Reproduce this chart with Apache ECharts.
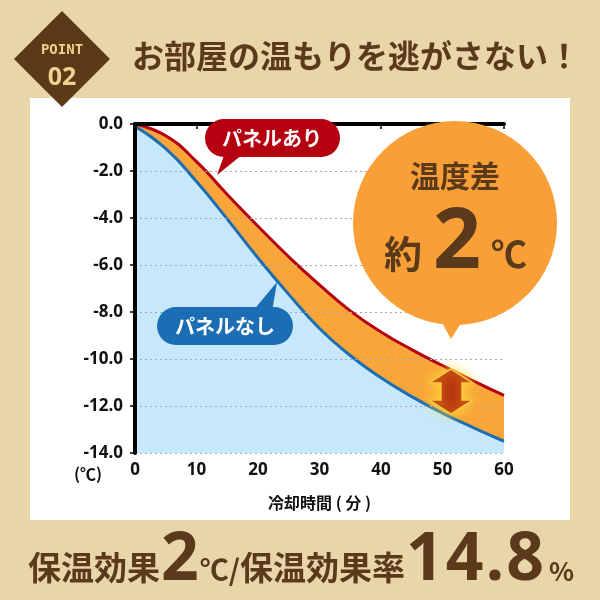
<!DOCTYPE html>
<html><head><meta charset="utf-8">
<script src="https://cdn.jsdelivr.net/npm/echarts@6/dist/echarts.min.js"></script>
<style>html,body{margin:0;padding:0;background:#e9d5aa}#c{width:600px;height:600px}</style>
</head><body><div id="c"></div>
<script>
const minutes = [0, 5, 10, 15, 20, 25, 30, 35, 40, 45, 50, 55, 60];
const panelAri = [0, -0.5, -1.6, -3.0, -4.35, -5.65, -6.85, -7.95, -8.85, -9.6, -10.28, -10.93, -11.55];
const panelNashi = [-0.1, -1.05, -2.45, -4.05, -5.7, -7.25, -8.7, -9.85, -10.8, -11.6, -12.3, -12.92, -13.5];
const xTicks = [0, 10, 20, 30, 40, 50, 60];
const yTicks = [0, -2, -4, -6, -8, -10, -12, -14];

const brown = '#5a3a1a';
const jp = '"Noto Sans CJK JP", sans-serif';
const chart = echarts.init(document.getElementById('c'));
chart.setOption({
  backgroundColor: '#e9d5aa',
  animation: false,
  grid: { left: 135, right: 96, top: 124, bottom: 147 },
  xAxis: {
    type: 'value', min: 0, max: 60, interval: 10, z: 10,
    axisLine: { lineStyle: { color: '#000', width: 4 } },
    axisTick: { show: true, length: 5, lineStyle: { color: '#000', width: 1.5 } },
    axisLabel: { color: '#111', fontSize: 17, fontWeight: 'bold', fontFamily: '"Open Sans", sans-serif', margin: 9,
      customValues: xTicks },
    splitLine: { show: false },
    name: '冷却時間 ( 分 )', nameLocation: 'middle', nameGap: 42,
    nameTextStyle: { color: '#111', fontSize: 16, fontWeight: 'bold', fontFamily: jp }
  },
  yAxis: {
    type: 'value', min: -14, max: 0, interval: 2, z: 10,
    axisLine: { show: true, lineStyle: { color: '#000', width: 4 } },
    axisTick: { show: true, length: 5, lineStyle: { color: '#000', width: 1.5 } },
    axisLabel: { color: '#111', fontSize: 17, fontWeight: 'bold', fontFamily: '"Open Sans", sans-serif', margin: 12,
      customValues: yTicks, formatter: v => v.toFixed(1) },
    splitLine: { show: true, lineStyle: { color: '#a8a8a8', width: 1, type: [2, 3] } }
  },
  series: [
    { name: 'パネルあり', type: 'line', smooth: true, symbol: 'none', z: 2,
      data: minutes.map((m, i) => [m, panelAri[i]]),
      lineStyle: { color: '#b5000f', width: 3 },
      areaStyle: { color: '#f9a53a', opacity: 1, origin: 'start' } },
    { name: 'パネルなし', type: 'line', smooth: true, symbol: 'none', z: 3,
      data: minutes.map((m, i) => [m, panelNashi[i]]),
      lineStyle: { color: '#1c6eb4', width: 3 },
      areaStyle: { color: '#c6e8fa', opacity: 1, origin: 'start' } }
  ],
  graphic: [
    { type: 'rect', z: -100, shape: { x: 30, y: 98, width: 540, height: 422 }, style: { fill: '#ffffff' } },
    { type: 'polygon', z: 50, shape: { points: [[62, 11], [110, 59], [62, 107], [14, 59]] }, style: { fill: '#5b3a17' } },
    { type: 'text', z: 51, style: { x: 62, y: 50, text: 'POINT', fill: '#f3d08f', font: 'bold 14px "DejaVu Sans Mono", monospace', textAlign: 'center', textVerticalAlign: 'middle' } },
    { type: 'text', z: 51, style: { x: 62, y: 78, text: '02', fill: '#f3d08f', font: 'bold 25px "Open Sans", sans-serif', textAlign: 'center', textVerticalAlign: 'middle' } },
    { type: 'text', z: 51, style: { x: 132, y: 56, text: 'お部屋の温もりを逃がさない！', fill: brown, font: 'bold 32px ' + jp, textAlign: 'left', textVerticalAlign: 'middle' } },
    // red callout
    { type: 'polygon', z: 60, shape: { points: [[226, 150], [248, 150], [217, 175]] }, style: { fill: '#b5000f' } },
    { type: 'rect', z: 60, shape: { x: 205, y: 119, width: 135, height: 38, r: 19 }, style: { fill: '#b5000f' } },
    { type: 'text', z: 61, style: { x: 272, y: 138, text: 'パネルあり', fill: '#fff', font: 'bold 20px ' + jp, textAlign: 'center', textVerticalAlign: 'middle' } },
    // blue callout
    { type: 'polygon', z: 60, shape: { points: [[252, 312], [272, 312], [277, 282]] }, style: { fill: '#1c6eb4' } },
    { type: 'rect', z: 60, shape: { x: 157, y: 307, width: 136, height: 38, r: 19 }, style: { fill: '#1c6eb4' } },
    { type: 'text', z: 61, style: { x: 225, y: 326, text: 'パネルなし', fill: '#fff', font: 'bold 20px ' + jp, textAlign: 'center', textVerticalAlign: 'middle' } },
    // orange bubble
    { type: 'polygon', z: 60, shape: { points: [[436, 312], [468, 312], [451, 339]] }, style: { fill: '#f99f38' } },
    { type: 'circle', z: 60, shape: { cx: 455, cy: 223, r: 102 }, style: { fill: '#f99f38' } },
    { type: 'text', z: 61, style: { x: 455, y: 176, text: '温度差', fill: brown, font: 'bold 30px ' + jp, textAlign: 'center', textVerticalAlign: 'middle' } },
    { type: 'text', z: 61, style: { x: 403, y: 254, text: '約', fill: brown, font: 'bold 38px ' + jp, textAlign: 'center', textVerticalAlign: 'middle' } },
    { type: 'text', z: 61, style: { x: 457, y: 244, text: '2', fill: brown, font: 'bold 84px "Open Sans", sans-serif', textAlign: 'center', textVerticalAlign: 'middle' } },
    { type: 'text', z: 61, style: { x: 509, y: 254, text: '℃', fill: brown, font: 'bold 36px ' + jp, textAlign: 'center', textVerticalAlign: 'middle' } },
    // double arrow
    { type: 'polygon', z: 62, shape: { points: [[451, 369], [473, 383], [462, 383], [462, 400], [473, 400], [451, 414], [429, 400], [441, 400], [441, 383], [429, 383]] },
      style: { fill: '#b8300c', stroke: '#f7c63a', lineWidth: 1.5, shadowBlur: 12, shadowColor: '#ffdf3a' } },
    // axis unit
    { type: 'text', z: 61, style: { x: 88, y: 474, text: '(℃)', fill: '#111', font: 'bold 16px ' + jp, textAlign: 'center', textVerticalAlign: 'middle' } },
    // bottom text
    { type: 'text', z: 61, style: { x: 28, y: 586, textAlign: 'left', textVerticalAlign: 'bottom',
      text: '{a|保温効果}{b|2}{c|℃/}{a|保温効果率}{b|1}{b|4}{b|.}{b|8}{d|%}',
      rich: {
        a: { fill: brown, font: 'bold 33px ' + jp, verticalAlign: 'bottom', padding: [0, 0, 2, 0] },
        b: { fill: brown, font: 'bold 66px "Open Sans", sans-serif', verticalAlign: 'bottom', padding: [0, 1, -8, 1] },
        c: { fill: brown, font: 'bold 29px ' + jp, verticalAlign: 'bottom', padding: [0, 0, 2, 0] },
        d: { fill: brown, font: 'bold 26px ' + jp, verticalAlign: 'bottom', padding: [0, 0, 2, 4] }
      } } }
  ]
});
</script></body></html>
